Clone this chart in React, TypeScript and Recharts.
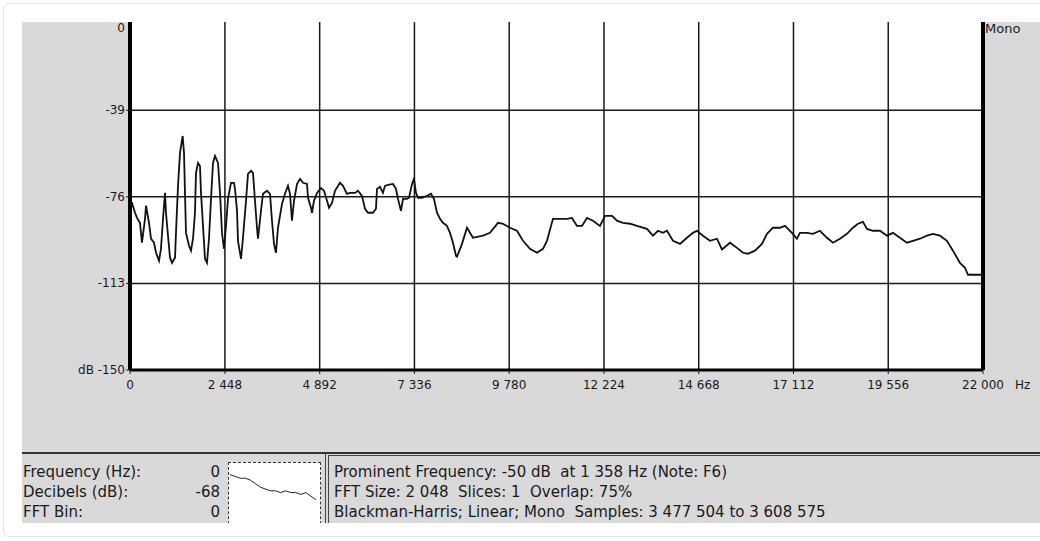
import { LineChart, Line, XAxis, YAxis, CartesianGrid, ReferenceLine } from "recharts";

// Spectrum trace (Hz / dB)
const freqHz = [
  0, 52, 129, 181, 258, 309, 387, 413, 490, 542, 619, 671, 748, 799, 851, 903, 928, 980, 1032, 1083,
  1161, 1186, 1238, 1290, 1358, 1393, 1418, 1444, 1522, 1573, 1625, 1676, 1702, 1754, 1805, 1831, 1883, 1934, 1986, 2037,
  2089, 2141, 2192, 2270, 2321, 2373, 2424, 2476, 2527, 2605, 2682, 2708, 2760, 2785, 2863, 2914, 2992, 3043, 3121, 3172,
  3224, 3275, 3301, 3378, 3430, 3533, 3611, 3662, 3714, 3765, 3817, 3920, 3997, 4075, 4126, 4178, 4230, 4307, 4384, 4462,
  4565, 4591, 4668, 4694, 4745, 4823, 4926, 5003, 5081, 5132, 5210, 5287, 5416, 5493, 5596, 5674, 5803, 5880, 5983, 6061,
  6138, 6267, 6344, 6370, 6448, 6525, 6576, 6654, 6783, 6860, 6912, 6989, 7041, 7144, 7196, 7273, 7324, 7376, 7428, 7531,
  7660, 7763, 7840, 7918, 7995, 8072, 8175, 8253, 8330, 8408, 8433, 8562, 8691, 8846, 9104, 9284, 9491, 9620, 9800, 9981,
  10135, 10316, 10497, 10651, 10754, 10909, 11090, 11270, 11399, 11528, 11657, 11786, 11941, 12121, 12250, 12431, 12560, 12714, 12895, 13075,
  13333, 13488, 13617, 13746, 13849, 14004, 14185, 14365, 14520, 14623, 14778, 14958, 15139, 15268, 15474, 15655, 15809, 15938, 16119, 16299,
  16428, 16583, 16764, 16892, 17073, 17202, 17279, 17460, 17615, 17795, 17976, 18131, 18311, 18491, 18646, 18775, 18904, 19007, 19162, 19343,
  19523, 19678, 19858, 20039, 20194, 20374, 20555, 20709, 20890, 21070, 21225, 21406, 21535, 21612, 21741, 21870, 22000,
];

const levelDb = [
  -78.6, -78.6, -82.8, -85.0, -87.1, -95.6, -85.4, -79.8, -87.1, -93.9, -95.6, -99.9, -103.3, -98.2, -85.4, -74.3, -82.8, -92.6, -102.0, -104.2,
  -102.0, -91.4, -71.3, -57.2, -50.0, -57.2, -74.3, -91.4, -96.9, -99.0, -93.9, -82.8, -65.8, -61.5, -62.8, -74.3, -88.4, -102.5, -104.2, -93.9,
  -76.9, -61.5, -58.5, -61.5, -74.3, -91.4, -98.2, -88.4, -76.9, -70.0, -70.0, -72.5, -82.0, -94.8, -102.5, -93.5, -77.7, -66.2, -64.9, -65.8,
  -77.7, -89.2, -93.9, -82.0, -74.7, -73.4, -74.7, -86.2, -96.1, -99.9, -89.2, -79.0, -74.7, -71.3, -74.7, -86.2, -77.7, -70.5, -68.3, -70.0,
  -70.5, -76.4, -80.7, -82.8, -77.7, -74.3, -72.2, -73.4, -77.7, -80.7, -78.6, -73.4, -70.0, -71.3, -74.7, -74.3, -74.3, -73.4, -75.6, -81.1,
  -82.8, -82.8, -81.1, -72.6, -71.7, -74.3, -71.3, -70.9, -70.5, -72.6, -76.9, -82.0, -76.9, -76.9, -76.4, -70.5, -68.3, -74.3, -76.4, -76.4,
  -75.6, -74.7, -76.9, -82.8, -85.4, -87.1, -88.4, -91.4, -95.6, -101.2, -101.6, -96.1, -89.2, -93.5, -92.6, -91.4, -87.1, -87.5, -89.2, -90.5,
  -94.8, -98.2, -99.9, -98.2, -94.8, -85.4, -85.4, -85.4, -85.0, -88.4, -88.4, -85.0, -86.2, -88.4, -84.1, -84.1, -86.2, -87.1, -87.5, -88.4,
  -89.7, -92.6, -90.5, -91.4, -90.5, -94.8, -96.1, -93.5, -91.4, -90.5, -92.6, -94.8, -93.9, -98.5, -95.6, -97.8, -99.9, -100.3, -99.0, -96.1,
  -91.8, -89.2, -89.2, -88.4, -91.4, -93.9, -91.4, -91.4, -91.8, -90.5, -93.5, -95.6, -93.9, -91.8, -89.2, -87.5, -86.7, -89.7, -90.5, -90.5,
  -92.6, -91.4, -93.5, -95.6, -94.8, -93.9, -92.6, -91.8, -92.6, -94.8, -99.0, -104.2, -106.3, -109.3, -109.3, -109.3, -109.3,
];

const xTicks = [0, 2448, 4892, 7336, 9780, 12224, 14668, 17112, 19556, 22000];
const yTicks = [-150, -113, -76, -39, 0];

// thumbnail trace in the info panel
const miniValues = [-62, -63, -64, -64, -65, -67, -69, -70, -71, -71, -72, -71, -72, -72, -73, -72, -74, -76];

const data = freqHz.map((f, i) => ({ f, db: levelDb[i] }));
const miniData = miniValues.map((v, i) => ({ i, v }));

const spaced = (n: number) => String(n).replace(/\B(?=(\d{3})+(?!\d))/g, " ");
const yLabel = (v: number) => (v === -150 ? "dB -150" : String(v));

const font = "'DejaVu Sans', Verdana, sans-serif";
const ink = "#1a1a1a";

// y tick: the top "0" sits on the cropped edge, so nudge it down to stay readable
const YTick = ({ x, y, payload }: any) => (
  <text x={x} y={y} dy={payload.value === 0 ? 13 : 4} textAnchor="end" fill={ink} fontSize={12} fontFamily={font}>
    {yLabel(payload.value)}
  </text>
);

export default function App() {
  return (
    <div style={{ position: "absolute", left: 0, top: 0, width: 1040, height: 541, background: "#fff", overflow: "hidden", fontFamily: font }}>
      <div style={{ position: "absolute", left: 3, top: 3, width: 1040, height: 532, border: "1px solid #e6e6e6", borderRadius: 6 }} />
      <div style={{ position: "absolute", left: 22, top: 22, width: 1018, height: 501, background: "#d9d9d9", overflow: "hidden" }}>
        <div style={{ position: "absolute", left: -22, top: -22 }}>
          <LineChart width={1040} height={430} data={data} margin={{ top: 19, right: 57, bottom: 0, left: 0 }}>
            <CartesianGrid fill="#fff" stroke={ink} strokeWidth={1.5} horizontalValues={yTicks} verticalValues={xTicks} />
            <XAxis
              type="number"
              dataKey="f"
              domain={[0, 22000]}
              ticks={xTicks}
              interval={0}
              height={60}
              tickFormatter={spaced}
              tick={{ fill: ink, fontSize: 12, fontFamily: font }}
              tickSize={4}
              tickMargin={6}
              axisLine={{ stroke: "#000", strokeWidth: 3 }}
              tickLine={{ stroke: ink }}
            />
            <YAxis
              type="number"
              domain={[-150, 0]}
              ticks={yTicks}
              interval={0}
              width={130}
              tick={<YTick />}
              tickSize={4}
              tickMargin={1}
              axisLine={{ stroke: "#000", strokeWidth: 4 }}
              tickLine={{ stroke: ink }}
            />
            <ReferenceLine x={22000} stroke="#000" strokeWidth={4} />
            <Line type="linear" dataKey="db" stroke="#111" strokeWidth={1.8} dot={false} isAnimationActive={false} />
          </LineChart>
        </div>
        <div style={{ position: "absolute", left: 993, top: 356, fontSize: 12, color: ink }}>Hz</div>
        <div style={{ position: "absolute", left: 963, top: 0, fontSize: 13, lineHeight: "14px", color: ink }}>Mono</div>

        {/* info panel */}
        <div style={{ position: "absolute", left: 0, top: 430, width: 1018, height: 2, background: "#333" }} />
        <div style={{ position: "absolute", left: 303, top: 431, width: 1, height: 80, background: "#444" }} />
        <div style={{ position: "absolute", left: 306, top: 433, width: 712, height: 1, background: "#444" }} />
        <div style={{ position: "absolute", left: 306, top: 433, width: 1, height: 80, background: "#444" }} />

        <div style={{ position: "absolute", left: 1, top: 440, fontSize: 15, lineHeight: "20px", color: ink }}>
          <div>Frequency (Hz):</div>
          <div>Decibels (dB):</div>
          <div>FFT Bin:</div>
        </div>
        <div style={{ position: "absolute", left: 150, width: 48, top: 440, fontSize: 15, lineHeight: "20px", color: ink, textAlign: "right" }}>
          <div>0</div>
          <div>-68</div>
          <div>0</div>
        </div>
        <div style={{ position: "absolute", left: 206, top: 440, width: 91, height: 70, background: "#fff", border: "1px dashed #333" }}>
          <LineChart width={88} height={44} data={miniData} margin={{ top: 8, right: 1, bottom: 0, left: 1 }}>
            <XAxis dataKey="i" hide />
            <YAxis domain={[-80, -60]} hide />
            <Line type="linear" dataKey="v" stroke="#222" strokeWidth={1} dot={false} isAnimationActive={false} />
          </LineChart>
        </div>

        <div style={{ position: "absolute", left: 312, top: 440, fontSize: 15, lineHeight: "20px", color: ink, whiteSpace: "pre" }}>
          <div>Prominent Frequency: -50 dB  at 1 358 Hz (Note: F6)</div>
          <div>FFT Size: 2 048  Slices: 1  Overlap: 75%</div>
          <div>Blackman-Harris; Linear; Mono  Samples: 3 477 504 to 3 608 575</div>
        </div>
      </div>
    </div>
  );
}
